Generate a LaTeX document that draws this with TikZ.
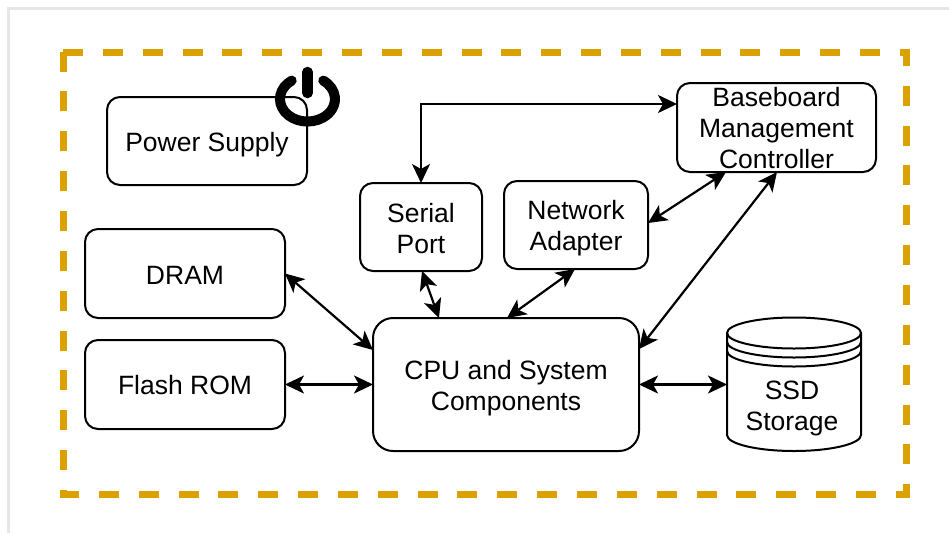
\documentclass[tikz,border=0pt]{standalone}
\usepackage{fontspec}
\setmainfont{Liberation Sans}
\usetikzlibrary{arrows.meta}
\definecolor{dashgold}{HTML}{DBA100}
\definecolor{framegray}{HTML}{E6E6E6}
\tikzset{
  block text/.style={align=center, inner sep=0pt, outer sep=0pt, font=\fontsize{26.5}{31}\selectfont,
    execute at end node=\vphantom{Ag}},
  every block/.style={block text, text depth=0pt, draw, line width=2pt, rounded corners=13pt},
  link/.style={<->, line width=2.2pt},
}
\begin{document}
\begin{tikzpicture}[x=1pt, y=-1pt, >={Stealth[length=19pt, width=18pt, inset=5pt]}]

    \useasboundingbox (0,0) rectangle (949,533);

    \draw [framegray, line width=3pt] (8.5,533) -- (8.5,8.5) -- (949,8.5);
    \draw [dashgold, line width=7pt, dash pattern=on 20pt off 19.85pt] (63,52) -- (906,52) -- (906,494) -- (63,494) -- cycle;

    \foreach \n/\t/\x/\y/\w/\h/\up in {
        power/Power Supply/207/141/200/88/21,
        dram/DRAM/185/273.5/200/89/21,
        flash/Flash ROM/185/384.5/200/89/19.5,
        serial/Serial\\Port/421/227/122/88/52,
        adapter/Network\\Adapter/576/225/144/88/51,
        bmc/Baseboard\\Management\\Controller/776.5/127.5/199/89/81}
      \node [every block, text height=\up pt, minimum width=\w pt, minimum height=\h pt] (\n) at (\x,\y) {\t};

    \node [every block, text height=51pt, rounded corners=20pt, minimum width=266pt, minimum height=133pt] (cpu) at (506,384.5) {CPU and System\\Components};

    % storage drum
    \node [minimum width=134pt, minimum height=134pt, inner sep=0pt, outer sep=0pt] (ssd) at (794,384.5) {};
    \node [block text, text height=56pt] (ssd-label) at (792,405) {SSD\\Storage};
    \draw [line width=2pt] (727,333) arc [start angle=180, end angle=0, x radius=67, y radius=-15.5] -- (861,435)
      arc [start angle=0, end angle=-180, x radius=67, y radius=-16] -- cycle;
    \foreach \y in {333,342,351}
      \draw [line width=2pt] (727,\y) arc [start angle=180, end angle=360, x radius=67, y radius=-15.5];

    % power symbol
    \coordinate (icon) at (307.5,99);
    \draw [line width=10pt, line cap=round] (icon) ++(-15.8,-18.4) arc [start angle=125, end angle=415, x radius=27.5, y radius=-22.5];
    \draw [line width=10.5pt, line cap=round] (307.5,72) -- (307.5,93);

    \coordinate (bend) at (421,104);
    \coordinate (bmc-top) at (677,104);
    \coordinate (serial-out) at (422,271);
    \coordinate (serial-cpu) at (439,318);
    \coordinate (adapter-out) at (575,269);
    \coordinate (adapter-cpu) at (507,318);
    \coordinate (adapter-right) at (648,223);
    \coordinate (bmc-left) at (726,172);
    \coordinate (bmc-right) at (777,172);
    \coordinate (cpu-bmc) at (639,349);
    \coordinate (cpu-dram) at (373,350);

    \draw [link] (serial) -- (bend) -- (bmc-top);
    \foreach \a/\b in {adapter-right/bmc-left, cpu-bmc/bmc-right, adapter-out/adapter-cpu, serial-out/serial-cpu,
        dram.east/cpu-dram, flash.east/cpu.west, cpu.east/ssd.west}
      \draw [link] (\a) -- (\b);

\end{tikzpicture}
\end{document}
